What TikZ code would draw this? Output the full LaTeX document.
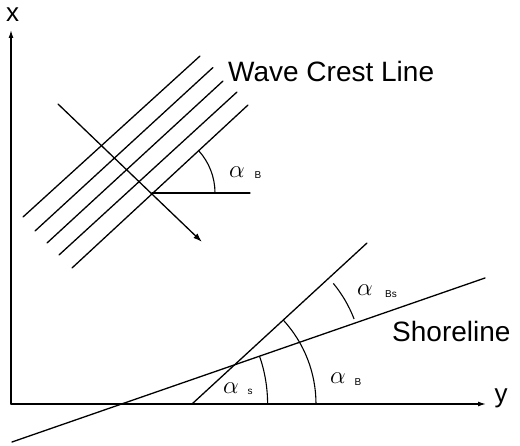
\documentclass[tikz,border=0pt]{standalone}
\usepackage{fontspec}
\setmainfont{Liberation Sans}
\usetikzlibrary{arrows.meta,calc}
\tikzset{
  ln/.style={line width=1.3pt, line cap=round},
  arcln/.style={line width=1.1pt},
  tip/.style={-{Latex[length=8pt,width=5pt]}},
  bigtxt/.style={inner sep=0pt, font=\fontsize{28}{30}\selectfont},
  axtxt/.style={inner sep=0pt, font=\fontsize{26}{28}\selectfont},
  alph/.style={inner sep=0pt, font=\fontsize{25}{25}\selectfont},
  subtxt/.style={inner sep=0pt, font=\fontsize{10}{10}\selectfont}
}
\begin{document}
\begin{tikzpicture}[x=1pt,y=1pt]
\useasboundingbox (0,0) rectangle (520,-446);
% axes
\coordinate (O) at (11,-404);
\coordinate (Xtip) at (11,-30);
\coordinate (Ytip) at (486,-404);
\draw[ln,tip] (O) -- (Xtip);
\draw[ln,tip] (O) -- (Ytip);
\node[axtxt,anchor=base] (xlab) at (12.5,-22) {x};
\node[axtxt,anchor=base] (ylab) at (501,-403) {y};
% wave crest lines
\coordinate (a1) at (23,-217);  \coordinate (b1) at (200,-56);
\coordinate (a2) at (35,-231);  \coordinate (b2) at (213,-67.5);
\coordinate (a3) at (47,-243);  \coordinate (b3) at (223,-81);
\coordinate (a4) at (59,-255);  \coordinate (b4) at (237,-92);
\coordinate (a5) at (72,-268);  \coordinate (b5) at (248,-105);
\foreach \i in {1,...,5} { \draw[ln] (a\i) -- (b\i); }
% wave direction
\coordinate (w0) at (58,-104);
\coordinate (w1) at (202,-242);
\draw[ln,-{Latex[length=9pt,width=6pt]}] (w0) -- (w1);
% upper alpha_B
\coordinate (P) at (152,-193);
\coordinate (Ph) at (250,-193);
\draw[ln] (P) -- (Ph);
\draw[arcln] ($(P)+(63,0)$) arc[start angle=0,end angle=42.5,radius=63];
\node[alph] (aB1) at (237,-172) {$\alpha$};
\node[subtxt] (sB1) at (258,-175) {B};
\node[bigtxt,anchor=base west] (wcl) at (228,-82) {Wave Crest Line};
% shoreline and crest near shore
\coordinate (s0) at (12,-442);
\coordinate (s1) at (485,-278);
\draw[ln] (s0) -- (s1);
\coordinate (c0) at (192,-404);
\coordinate (c1) at (367,-243);
\draw[ln] (c0) -- (c1);
\coordinate (S) at (121.6,-404);
\coordinate (I) at (intersection of s0--s1 and c0--c1);
\draw[arcln] ($(S)+(146,0)$) arc[start angle=0,end angle=19.1,radius=146];
\draw[arcln] ($(c0)+(124,0)$) arc[start angle=0,end angle=42.6,radius=124];
\draw[arcln] ($(I)+(21:128)$) arc[start angle=21,end angle=39.5,radius=128];
\node[alph] (as) at (231,-388) {$\alpha$};
\node[subtxt] (ss) at (250,-392) {s};
\node[alph] (aB2) at (338,-378) {$\alpha$};
\node[subtxt] (sB2) at (358,-382) {B};
\node[alph] (aBs) at (365,-290) {$\alpha$};
\node[subtxt] (sBs) at (391,-294) {Bs};
\node[bigtxt,anchor=base west] (shl) at (392,-342) {Shoreline};
\end{tikzpicture}
\end{document}
